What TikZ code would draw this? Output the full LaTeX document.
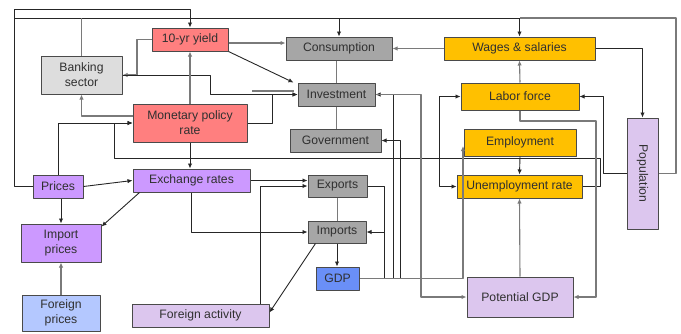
\documentclass[tikz,border=0pt]{standalone}
\usepackage{fontspec}
\setmainfont{Liberation Sans}
\usetikzlibrary{arrows.meta}
\definecolor{boxline}{HTML}{4A4A4A}
\definecolor{txt}{HTML}{303030}
\definecolor{lnk}{HTML}{262626}
\definecolor{lgray}{HTML}{7A7A7A}
\definecolor{boxred}{HTML}{FF7F7F}
\definecolor{banklight}{HTML}{DDDDDD}
\definecolor{gdpgray}{HTML}{A6A6A6}
\definecolor{labour}{HTML}{FFC000}
\definecolor{pricepurple}{HTML}{CC99FF}
\definecolor{lav}{HTML}{DCC6EE}
\definecolor{forblue}{HTML}{B4C8FF}
\definecolor{gdpblue}{HTML}{6A8FF7}
\begin{document}
\begin{tikzpicture}[x=1pt,y=-1pt,line join=round,>={Latex[length=5pt,width=4.5pt]}]
\tikzset{box/.style 2 args={draw=boxline,line width=1pt,inner sep=0pt,minimum width=#1pt,minimum height=#2pt,
    align=center,text=txt,font=\fontsize{12.2}{15}\selectfont},
  link/.style={draw=lnk,line width=0.9pt},
  glink/.style={draw=lgray,line width=1.1pt}}
\useasboundingbox (0,0) rectangle (681,333);
\node[box={76}{23},fill=boxred] (yield) at (190,39.5) {10-yr yield};
\node[box={81}{38},fill=banklight] (bank) at (81.5,75) {Banking\\sector};
\node[box={114}{38},fill=boxred] (mpr) at (190,123) {Monetary policy\\rate};
\node[box={106}{23},fill=gdpgray] (cons) at (339,48.5) {Consumption};
\node[box={77}{23},fill=gdpgray] (inv) at (336.5,94.5) {Investment};
\node[box={91}{23},fill=gdpgray] (gov) at (335.5,140.5) {Government};
\node[box={59}{22},fill=gdpgray] (exp) at (337.5,186) {Exports};
\node[box={58}{22},fill=gdpgray] (imp) at (337,232) {Imports};
\node[box={43}{23},fill=gdpblue] (gdp) at (337.5,278.5) {GDP};
\node[box={151}{23},fill=labour] (wages) at (519.5,48.5) {Wages \& salaries};
\node[box={118}{27},fill=labour] (labor) at (520,96.5) {Labor force};
\node[box={112}{27},fill=labour] (empl) at (520,142.5) {Employment};
\node[box={125}{23},fill=labour] (unemp) at (519.5,186.5) {Unemployment rate};
\node[box={106}{40},fill=lav] (potgdp) at (520,297) {Potential GDP};
\node[box={111}{31},fill=lav,rotate=-90] (pop) at (642.5,173.5) {Population};
\node[box={50}{23},fill=pricepurple] (prices) at (58,186.5) {Prices};
\node[box={117}{23},fill=pricepurple] (exch) at (191.5,180.5) {Exchange rates};
\node[box={80}{38},fill=pricepurple] (impp) at (61,243) {Import\\prices};
\node[box={78}{36},fill=forblue] (forp) at (61,313) {Foreign\\prices};
\node[box={137}{23},fill=lav] (foract) at (200.5,315.5) {Foreign activity};
\coordinate (busL) at (14,18);
\coordinate (busR) at (676,18);
\coordinate (stub) at (252,91);
\draw[link,->] (prices.west) -| (14,9) -| (yield.north);
\draw[link] (busL) -- (wages.north|-busL);
\draw[glink] (pop.north) -| (busR) -- (wages.north|-busL);
\draw[link,->] (cons.north|-busL) -- (cons.north);
\draw[link,->] (wages.north|-busL) -- (wages.north);
\draw[glink] (bank.north) -- (bank.north|-busL);
\draw[glink,->] (yield.east|-0,43) -- (cons.west|-0,43);
\draw[link,->] (yield.south east) -- ([xshift=-4pt]inv.north west);
\draw[glink,->] (yield.west) -- (137,39.5) |- (bank.east);
\draw[link,->] (bank.east) -| (210,94.5) -- (inv.west);
\draw[link,->] (mpr.east) -- (272,123) |- (inv.west);
\draw[glink] (stub) -- (294,91);
\draw[glink,->] (mpr.north) -- (yield.south);
\draw[glink,->] (mpr.west|-0,116) -| (bank.south);
\draw[link,->] (prices.north) |- (mpr.west);
\draw[link,->] (unemp.east) -| (600,158) -| (114,123) -- (mpr.west);
\draw[link,->] (mpr.south) -- (mpr.south|-exch.north);
\draw[link,->] (prices.east) -- (exch.west);
\draw[link,->] (impp.north|-prices.south) -- (impp.north);
\draw[link,->] ([xshift=7pt]exch.south west) -- ([yshift=-3pt]impp.north east);
\draw[glink,->] (forp.north) -- (impp.south);
\draw[link,->] (exch.east) -- (exp.west|-exch.east);
\draw[link,->] (foract.north-|260,0) |- (exp.west);
\draw[link,->] (exch.south) |- (imp.west);
\draw[link,->] ([xshift=8pt]imp.south west) -- ([yshift=3pt]foract.east);
\draw[glink] (inv.north) -- (inv.north|-cons.south);
\draw[glink] (inv.south) -- (inv.south|-gov.north);
\draw[glink] (exp.south) -- (exp.south|-imp.north);
\draw[link,->] (imp.south) -- (imp.south|-gdp.north);
\draw[link] (exp.east) -| (384,278.5);
\draw[link,->] (gdp.east) -| (384,232) -- (imp.east);
\draw[link,->] (gdp.east) -| (393,94.5) -- (inv.east);
\draw[link,->] (gdp.east) -| (400,140.5) -- (gov.east);
\draw[glink,->] (gdp.east) -| (463,146);
\draw[glink,->] (inv.east) -| (421,297) -- (potgdp.west);
\draw[link,<->] (labor.west) -| (439,186.5) -- (unemp.west);
\draw[glink,->] (labor.south) |- (596,121) |- (potgdp.east);
\draw[link,->] (pop.south) -| (603,96.5) -- (labor.east);
\draw[link,->] (wages.east) -| (pop.west);
\draw[glink,->] (wages.west) -- (cons.east);
\draw[glink,->] (labor.north) -- (wages.south);
\draw[link,->] (empl.south) -- (unemp.north);
\draw[glink,->] (potgdp.north) -- (unemp.south);
\end{tikzpicture}
\end{document}
